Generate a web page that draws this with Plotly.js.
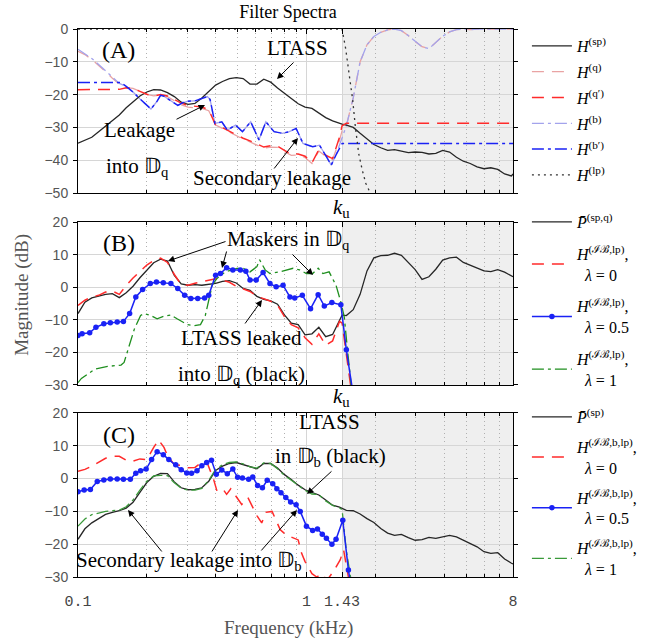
<!DOCTYPE html>
<html><head><meta charset="utf-8">
<script src="https://cdn.plot.ly/plotly-3.0.1.min.js"></script>
<style>body{margin:0;background:#fff}#chart{width:654px;height:644px}</style>
</head><body><div id="chart"></div>
<script>
// ---------- shared frequency grid (kHz) ----------
const freqGrid = [0.1,0.1072,0.1149,0.1231,0.1320,0.1414,0.1516,0.1625,0.1741,0.1866,
0.2,0.2144,0.2297,0.2462,0.2639,0.2828,0.3031,0.3249,0.3482,0.3732,
0.4,0.4287,0.4595,0.4925,0.5278,0.5657,0.6063,0.6498,0.6964,0.7464,
0.8,0.8574,0.9190,0.9849,1.0556,1.1314,1.2126,1.2996,1.3929,
1.43,
1.4929,1.6,1.7148,1.8379,1.9698,2.1112,2.2627,2.4251,2.5992,2.7858,
2.9857,3.2,3.4297,3.6758,3.9397,4.2224,4.5255,4.8503,5.1984,5.5715,
5.9714,6.4,6.8594,7.3517,7.8793,
8.0];

// ---------- Panel A : filter spectra ----------
const spA = [-34.8,-34.0,-33.0,-31.3,-29.5,-27.9,-26.2,-24.0,-22.2,-20.4,
-19.2,-18.5,-18.6,-19.4,-20.6,-22.3,-23.0,-22.7,-21.0,-18.9,
-17.1,-16.0,-15.1,-14.8,-15.1,-16.8,-16.8,-15.3,-16.2,-18.0,
-19.7,-21.2,-22.8,-23.8,-24.2,-25.6,-27.0,-28.0,-28.8,
-29.0,
-29.3,-30.0,-31.8,-33.4,-35.2,-36.2,-37.0,-36.8,-37.3,-37.7,
-37.5,-37.6,-38.1,-37.9,-37.0,-37.5,-39.1,-40.3,-41.0,-42.0,
-42.6,-42.3,-42.8,-44.2,-44.8,
-44.2];
const qA = [-6.8,-7.8,-9.3,-11.0,-13.0,-15.0,-16.8,-17.9,-18.1,-19.0,
-19.9,-20.4,-20.0,-20.6,-21.9,-23.1,-23.8,-24.1,-24.2,-24.9,
-29.3,-30.3,-31.4,-32.6,-33.6,-34.4,-35.3,-36.4,-36.0,-36.1,
-37.4,-38.5,-38.4,-39.2,-41.0,-37.2,-38.8,-39.8,-34.0,
-31.0,
-29.5,-21.0,-10.0,-4.8,-2.3,-1.0,-0.3,0,-0.5,-2.0,
-3.8,-5.4,-6.0,-4.2,-2.2,-0.9,-0.2,0,-0.2,0,
-0.1,0,0,0,0,
0];
const qpA = [-18.5,-18.5,-18.5,-18.5,-18.5,-18.5,-18.4,-17.9,-18.1,-19.0,
-19.9,-20.4,-20.0,-20.4,-21.4,-22.6,-23.3,-23.6,-23.8,-24.6,
-29.3,-30.1,-31.2,-32.3,-33.3,-34.1,-35.0,-36.0,-35.6,-35.7,
-37.0,-38.2,-38.1,-38.8,-40.8,-36.8,-38.5,-39.5,-33.0,
-29.5,
-28.7,-28.7,-28.7,-28.7,-28.7,-28.7,-28.7,-28.7,-28.7,-28.7,
-28.7,-28.7,-28.7,-28.7,-28.7,-28.7,-28.7,-28.7,-28.7,-28.7,
-28.7,-28.7,-28.7,-28.7,-28.7,
-28.7];
const fBpA = [0.1,0.1537,0.1625,0.1741,0.1866,0.2,0.2085,0.2219,0.2297,0.2378,0.2549,0.2732,0.2868,0.3031,0.3249,0.3482,0.3681,0.3784,0.3972,0.4257,0.45,0.4891,0.5242,0.5696,0.619,0.6634,0.721,0.7835,0.8398,0.9,0.9646,1.063,1.139,1.221,1.282,1.345,1.43,1.493,8.0];
const bpA = [-16.3,-16.3,-17.5,-19.2,-21.3,-23.3,-24.4,-22.0,-20.2,-20.5,-22.0,-23.3,-22.5,-22.0,-21.9,-21.2,-20.6,-21.5,-28.8,-28.3,-30.8,-29.3,-31.3,-28.3,-33.8,-28.3,-31.3,-31.8,-31.3,-30.3,-34.9,-35.9,-35.4,-38.9,-41.5,-38.4,-34.9,-34.9,-34.9];
const fBA = [0.1,0.1072,0.1149,0.1231,0.132,0.1414,0.1516,0.1625,0.1741,0.1866,0.2,0.2085,0.2219,0.2297,0.2378,0.2549,0.2732,0.2868,0.3031,0.3249,0.3482,0.3681,0.3784,0.3972,0.4257,0.45,0.4891,0.5242,0.5696,0.619,0.6634,0.721,0.7835,0.8398,0.9,0.9646,1.063,1.139,1.221,1.282,1.345,1.43,1.493,1.6,1.715,1.838,1.97,2.111,2.263,2.425,2.599,2.786,2.986,3.2,3.43,3.676,3.94,4.222,4.525,4.85,5.198,5.572,5.971,6.4,8.0];
const bA = [-6.2,-7.5,-9.0,-10.8,-12.8,-14.8,-16.6,-17.5,-19.2,-21.3,-23.3,-24.4,-22.0,-20.2,-20.5,-22.0,-23.3,-22.5,-22.0,-21.9,-21.2,-20.6,-21.5,-28.8,-28.3,-30.8,-29.3,-31.3,-28.3,-33.8,-28.3,-31.3,-31.8,-31.3,-30.3,-34.9,-35.9,-35.4,-38.9,-41.5,-38.4,-33.5,-29.5,-21.0,-10.0,-4.8,-2.3,-1.0,-0.3,0,-0.5,-2.0,-3.8,-5.4,-6.0,-4.2,-2.2,-0.9,-0.2,0,-0.2,0,-0.1,0,0];
const fLpA = [0.1,1.43,1.455,1.483,1.546,1.59,1.634,1.691,1.752,1.815,1.88,1.95];
const lpA = [0,0,-2.9,-6.0,-15.3,-21.4,-29.7,-38.0,-43.0,-47.0,-49.3,-55];

// ---------- Panel B ----------
const spqB = [-8.1,-4.6,-3.3,-2.8,-2.2,-2.0,-3.2,-1.7,0.3,2.9,
5.2,7.5,8.6,8.0,3.6,1.0,0.6,0.8,0.6,0.9,
1.2,1.8,2.0,1.3,-0.4,-1.0,-2.8,-3.7,-4.2,-5.2,
-8.5,-11.0,-11.5,-14.6,-14.3,-12.3,-15.2,-14.5,-10.5,
-8.6,
-8.7,-6.9,-2.2,5.0,9.0,9.7,9.8,10.4,9.8,7.5,
5.4,2.4,3.2,5.5,8.3,9.0,9.2,7.6,6.8,6.0,
5.0,4.8,5.4,4.6,3.3,
3.2];
const lam0B = [-5.6,-4.0,-3.0,-2.5,-1.5,-1.2,-2.2,0.5,2.8,4.8,
6.8,8.2,8.9,7.6,3.9,0.8,0.6,1.2,1.7,2.3,
2.6,2.2,1.5,0.3,-0.6,-1.3,-2.8,-3.5,-4.3,-5.5,
-9.0,-11.5,-12.5,-15.5,-17.5,-14.3,-17.8,-16.5,-10.5,
-11.0,
-21.0,-36.0,null,null,null,null,null,null,null,null,
null,null,null,null,null,null,null,null,null,null,
null,null,null,null,null,
null];
const fLam5B = [0.1,0.1042,0.1125,0.1198,0.1297,0.1385,0.1484,0.158,0.1682,0.179,0.1918,0.2071,0.2204,0.2362,0.2549,0.2732,0.2928,0.3117,0.334,0.358,0.3732,0.4,0.4199,0.4469,0.4757,0.5134,0.5426,0.5657,0.6021,0.6453,0.6916,0.7361,0.789,0.8456,0.8877,0.958,1.041,1.1236,1.1959,1.2906,1.4123,1.4929,1.6];
const lam5B = [-14.8,-14.3,-14.0,-12.3,-11.2,-10.9,-10.7,-10.5,-8.1,-3.0,-0.7,1.1,1.6,1.4,1.1,-0.4,-2.5,-3.5,-3.5,-3.3,-2.5,3.7,4.2,6.0,5.3,5.3,4.9,2.2,2.2,4.5,1.1,0.1,0.6,-3.0,-3.3,-2.5,-6.6,-2.3,-5.8,-4.7,-5.4,-19.2,-33.0];
const fLam1B = [0.1,0.1035,0.1181,0.1347,0.1542,0.1591,0.1676,0.1765,0.1879,0.1945,0.2085,0.2219,0.2378,0.2549,0.2713,0.301,0.3204,0.3434,0.3605,0.3732,0.3864,0.4056,0.4407,0.4959,0.5278,0.5657,0.6063,0.6233,0.6589,0.6916,0.7621,0.8724,0.9318,0.9987,1.063,1.124,1.179,1.255,1.345,1.412,1.462,1.514,1.567];
const lam1B = [-29.3,-28.0,-25.2,-24.3,-23.9,-23.1,-17.9,-12.8,-8.7,-8.1,-8.7,-9.7,-8.9,-8.5,-9.7,-11.5,-11.8,-11.5,-8.7,-3.5,0.6,2.7,4.7,5.8,5.8,4.7,6.3,8.4,5.3,4.2,4.7,5.8,5.3,4.2,4.2,5.8,4.2,4.7,0.6,-4.5,-9.2,-20.0,-30.0];

// ---------- Panel C ----------
const spC = [-18.5,-15.3,-13.5,-12.2,-10.9,-10.3,-9.8,-9.0,-7.2,-4.2,
-1.2,0.7,1.6,1.5,-1.0,-2.8,-3.4,-3.3,-2.8,-0.8,
2.5,3.8,4.6,4.9,4.3,3.5,3.0,4.6,4.6,3.2,
1.2,-0.3,-2.0,-3.4,-4.3,-5.0,-6.5,-8.1,-8.7,
-9.0,
-9.7,-9.8,-10.8,-12.2,-13.4,-15.2,-16.6,-17.3,-17.0,-18.0,
-18.8,-18.6,-17.9,-18.2,-17.8,-17.3,-17.8,-18.8,-19.8,-20.8,
-22.3,-22.8,-22.6,-24.5,-25.8,
-26.0];
const lam1C = [-14.5,-12.3,-11.0,-10.4,-10.0,-9.8,-9.6,-8.6,-6.5,-3.5,
-0.8,0.8,1.0,0.9,-1.3,-2.9,-3.5,-3.5,-3.0,-0.5,
2.8,4.2,4.9,5.1,4.5,3.6,3.2,4.8,4.6,3.0,
1.0,-0.5,-2.2,-3.6,-4.7,-4.9,-6.8,-8.2,-8.9,
-9.5,
-22.0,-35.0,null,null,null,null,null,null,null,null,
null,null,null,null,null,null,null,null,null,null,
null,null,null,null,null,
null];
const fLam0C = [0.1,0.1072,0.1149,0.1231,0.132,0.1414,0.1516,0.1625,0.1741,0.1866,0.2,0.2144,0.225,0.2378,0.2462,0.2639,0.2828,0.3031,0.3249,0.3482,0.3655,0.3918,0.4056,0.4317,0.4469,0.4659,0.4959,0.5205,0.554,0.6063,0.6364,0.6634,0.7062,0.7674,0.8112,0.919,0.9514,0.9849,1.0556,1.1081,1.1632,1.2295,1.3177,1.4026,1.452,1.5137,1.578];
const lam0C = [2.2,2.8,3.8,5.0,6.2,6.8,6.8,5.6,5.3,6.0,5.8,9.5,11.8,9.5,7.0,4.2,4.0,3.3,3.4,5.0,5.2,-0.2,-3.8,-3.3,-4.8,-3.1,-5.8,-7.9,-5.8,-11.3,-13.5,-10.3,-10.0,-15.6,-17.1,-18.7,-22.8,-25.3,-29.0,-30.0,-29.0,-31.0,-28.0,-24.8,-21.7,-29.0,-36.0];
const fLam5C = [0.1,0.1064,0.1133,0.1214,0.1297,0.1385,0.1484,0.158,0.1694,0.179,0.1879,0.1986,0.2099,0.2219,0.2362,0.2497,0.2676,0.2828,0.299,0.3138,0.3317,0.3482,0.3655,0.3837,0.4028,0.4257,0.45,0.4757,0.4993,0.5242,0.5579,0.5816,0.6105,0.6409,0.6727,0.7111,0.7413,0.7728,0.8112,0.8515,0.9,0.9383,0.9987,1.063,1.1158,1.1713,1.221,1.2906,1.3454,1.44,1.5242,1.5671];
const lam5C = [-4.0,-3.5,-3.3,-0.9,-0.4,-0.1,-0.1,-0.2,-0.2,1.6,2.4,2.9,5.8,8.2,7.3,5.8,4.2,2.7,1.7,1.6,2.4,3.9,4.9,5.6,1.3,2.6,1.5,2.9,0.4,0.2,-0.2,0.5,-2.1,-2.8,-0.5,-1.6,-3.1,-4.3,-5.8,-7.1,-8.0,-10.0,-14.5,-15.8,-15.4,-17.0,-18.2,-20.0,-18.5,-12.7,-27.9,-33.0];

// ---------- axis / text ----------
const xTickVals = [0.1, 1, 1.43, 8];
const xTickText = ['0.1', '1', '1.43', '8'];
const xMinorVals = [0.2,0.3,0.4,0.5,0.6,0.7,0.8,0.9,2,3,4,5,6,7];
const cutoff = 1.43, fMax = 8;

const C = {black:'#262626', red:'#ff2b2b', pink:'#e9a3a3', purple:'#a3a3ec', blue:'#1a22f5', green:'#1f8f1f', greenC:'#3a9a3a'};
const serif = 'Liberation Serif';

function ln(color, dash, width){ return {color:color, dash:dash||'solid', width:width||1.4}; }
const DASH = '12px,8px', DASHDOT = '12px,4px,3px,4px', DOT = '2px,4px';

const traces = [
 // Panel A
 {x:freqGrid, y:qA, xaxis:'x', yaxis:'y', mode:'lines', line:ln(C.pink,DASH,1.3), name:'<i>H</i><sup>(q)</sup>', legend:'legend', legendrank:2, legendgroup:'a2'},
 {x:fBA, y:bA, xaxis:'x', yaxis:'y', mode:'lines', line:ln(C.purple,DASHDOT,1.3), name:'<i>H</i><sup>(b)</sup>', legend:'legend', legendrank:4, legendgroup:'a4'},
 {x:freqGrid, y:spA, xaxis:'x', yaxis:'y', mode:'lines', line:ln(C.black,'solid',1.3), name:'<i>H</i><sup>(sp)</sup>', legend:'legend', legendrank:1, legendgroup:'a1'},
 {x:freqGrid, y:qpA, xaxis:'x', yaxis:'y', mode:'lines', line:ln(C.red,DASH,1.5), name:'<i>H</i><sup>(q′)</sup>', legend:'legend', legendrank:3, legendgroup:'a3'},
 {x:fBpA, y:bpA, xaxis:'x', yaxis:'y', mode:'lines', line:ln(C.blue,DASHDOT,1.5), name:'<i>H</i><sup>(b′)</sup>', legend:'legend', legendrank:5, legendgroup:'a5'},
 {x:fLpA, y:lpA, xaxis:'x', yaxis:'y', mode:'lines', line:ln('#333',DOT,1.3), name:'<i>H</i><sup>(lp)</sup>', legend:'legend', legendrank:6, legendgroup:'a6'},
 // Panel B
 {x:freqGrid, y:spqB, xaxis:'x2', yaxis:'y2', mode:'lines', line:ln(C.black,'solid',1.3), name:'<i>P̄</i><sup>(sp,q)</sup>', legend:'legend2', legendrank:1, legendgroup:'b1'},
 {x:freqGrid, y:lam0B, xaxis:'x2', yaxis:'y2', mode:'lines', line:ln(C.red,DASH,1.5), name:'<i>H</i><sup>(ℐℬ,lp)</sup>,<br>\u00a0\u00a0<i>λ</i> = 0', legend:'legend2', legendrank:2, legendgroup:'b2'},
 {x:fLam1B, y:lam1B, xaxis:'x2', yaxis:'y2', mode:'lines', line:ln(C.green,DASHDOT,1.3), name:'<i>H</i><sup>(ℐℬ,lp)</sup>,<br>\u00a0\u00a0<i>λ</i> = 1', legend:'legend2', legendrank:4, legendgroup:'b4'},
 {x:fLam5B, y:lam5B, xaxis:'x2', yaxis:'y2', mode:'lines+markers', line:ln(C.blue,'solid',1.5), marker:{size:5.5,color:C.blue}, name:'<i>H</i><sup>(ℐℬ,lp)</sup>,<br>\u00a0\u00a0<i>λ</i> = 0.5', legend:'legend2', legendrank:3, legendgroup:'b3'},
 // Panel C
 {x:fLam0C, y:lam0C, xaxis:'x3', yaxis:'y3', mode:'lines', line:ln(C.red,DASH,1.5), name:'<i>H</i><sup>(ℐℬ,b,lp)</sup>,<br>\u00a0\u00a0<i>λ</i> = 0', legend:'legend3', legendrank:2, legendgroup:'c2'},
 {x:freqGrid, y:spC, xaxis:'x3', yaxis:'y3', mode:'lines', line:ln(C.black,'solid',1.3), name:'<i>P̄</i><sup>(sp)</sup>', legend:'legend3', legendrank:1, legendgroup:'c1'},
 {x:freqGrid, y:lam1C, xaxis:'x3', yaxis:'y3', mode:'lines', line:ln(C.greenC,DASHDOT,1.3), name:'<i>H</i><sup>(ℐℬ,b,lp)</sup>,<br>\u00a0\u00a0<i>λ</i> = 1', legend:'legend3', legendrank:4, legendgroup:'c4'},
 {x:fLam5C, y:lam5C, xaxis:'x3', yaxis:'y3', mode:'lines+markers', line:ln(C.blue,'solid',1.5), marker:{size:5.5,color:C.blue}, name:'<i>H</i><sup>(ℐℬ,b,lp)</sup>,<br>\u00a0\u00a0<i>λ</i> = 0.5', legend:'legend3', legendrank:3, legendgroup:'c3'}
];
traces.forEach(t => { t.hoverinfo = 'skip'; t.connectgaps = false; });

function xAxis(anchor, labels){
  return {type:'log', range:[-1, 0.90309], anchor:anchor, tickmode:'array', tickvals:xTickVals, ticktext:xTickText,
    showticklabels:labels, ticks:'inside', ticklen:5, tickcolor:'#000', tickwidth:1,
    showgrid:true, gridcolor:'#d6d6d6', gridwidth:1, showline:true, linecolor:'#000', linewidth:1, mirror:'ticks',
    zeroline:false, tickfont:{family:'Liberation Mono', size:15, color:'#444'}, ticklabelstandoff:10,
    minor:{tickmode:'array', tickvals:xMinorVals, ticks:'inside', ticklen:3, tickcolor:'#000', showgrid:true, gridcolor:'#b0b0b0', griddash:'1px,3px', gridwidth:1}};
}
function yAxis(domain, range){
  return {domain:domain, range:range, dtick:10, tick0:0, ticks:'outside', ticklen:4, tickcolor:'#000',
    showgrid:true, gridcolor:'#d6d6d6', gridwidth:1, showline:true, linecolor:'#000', linewidth:1, mirror:'ticks',
    zeroline:false, tickfont:{family:'Liberation Sans', size:14, color:'#555'}, ticklabelstandoff:2};
}
function shade(xref, yref){
  return {type:'rect', xref:xref, yref:yref+' domain', x0:cutoff, x1:fMax, y0:0, y1:1, fillcolor:'#efefef', line:{width:0}, layer:'below'};
}
const tf = {family:serif, size:21, color:'#000'};
const pf = {family:serif, size:24, color:'#000'};
const kf = {family:serif, size:21, color:'#000'};
function txt(x, y, text, extra){ return Object.assign({xref:'paper', yref:'paper', x:x, y:y, text:text, showarrow:false, font:tf, xanchor:'center', yanchor:'middle'}, extra||{}); }
function arr(x, y, ax, ay){ return {xref:'paper', yref:'paper', x:x, y:y, ax:ax, ay:ay, text:'', showarrow:true, arrowhead:2, arrowsize:1.3, arrowwidth:1, arrowcolor:'#000', standoff:0, startstandoff:0}; }
const Dq = '𝔻<sub>q</sub>', Db = '𝔻<sub>b</sub>';
const ku = '<i>k</i><sub>u</sub>';

const annotations = [
  txt(0.094, 0.962, '(A)', {font:pf}),
  txt(0.5057, 0.9653, 'LTASS'), arr(0.4575, 0.9088, 18, -18),
  txt(0.1425, 0.8157, 'Leakage'), txt(0.1379, 0.7482, 'into '+Dq), arr(0.292, 0.8613, -30, 15),
  txt(0.446, 0.7281, 'Secondary leakage'), arr(0.5057, 0.8011, -25, 32),
  txt(0.6046, 0.6725, ku, {font:kf}),
  txt(0.094, 0.61, '(B)', {font:pf}),
  txt(0.4828, 0.615, 'Maskers in '+Dq), arr(0.2069, 0.5766, 59, -20), arr(0.331, 0.5639, 5, -18), arr(0.5402, 0.5511, -22, -22),
  txt(0.377, 0.4361, 'LTASS leaked'), txt(0.377, 0.3686, 'into '+Dq+' (black)'), arr(0.423, 0.5055, -18, 25),
  txt(0.6046, 0.328, ku, {font:kf}),
  txt(0.094, 0.2595, '(C)', {font:pf}),
  txt(0.5793, 0.283, 'LTASS'), txt(0.5816, 0.219, 'in '+Db+' (black)'), arr(0.5264, 0.1515, 26, -24),
  txt(0.2552, 0.0292, 'Secondary leakage into '+Db), arr(0.1149, 0.1223, 35, 43), arr(0.3678, 0.1223, -27, 43), arr(0.5034, 0.1223, -37, 42),
  txt(-0.1287, 0.515, 'Magnitude (dB)', {textangle:-90, font:{family:serif,size:19,color:'#555'}}),
  txt(0.4828, -0.093, 'Frequency (kHz)', {font:{family:serif,size:19,color:'#555'}})
];

const legFont = {family:serif, size:16, color:'#000'};
function leg(y, gap){ return {x:1.032, y:y, xanchor:'left', yanchor:'top', font:legFont, bgcolor:'rgba(0,0,0,0)', borderwidth:0, itemwidth:40, tracegroupgap:gap, traceorder:'grouped', valign:'middle'}; }

const layout = {
  width:654, height:644, paper_bgcolor:'#fff', plot_bgcolor:'#fff',
  margin:{l:78, r:141, t:29, b:67, autoexpand:false},
  title:{text:'Filter Spectra', font:{family:serif, size:18, color:'#000'}, x:0.483, xref:'paper', xanchor:'center', y:0.982, yref:'container', yanchor:'middle'},
  xaxis:xAxis('y', false), xaxis2:xAxis('y2', false), xaxis3:xAxis('y3', true),
  yaxis:yAxis([0.7007,1], [-50,0]), yaxis2:yAxis([0.3504,0.6478], [-30,20]), yaxis3:yAxis([0,0.2993], [-30,20]),
  shapes:[shade('x','y'), shade('x2','y2'), shade('x3','y3')],
  annotations:annotations,
  showlegend:true,
  legend:leg(1.0, 2), legend2:leg(0.679, 8), legend3:leg(0.323, 6),
  hovermode:false
};
Plotly.newPlot('chart', traces, layout, {displayModeBar:false, staticPlot:true});
</script></body></html>
